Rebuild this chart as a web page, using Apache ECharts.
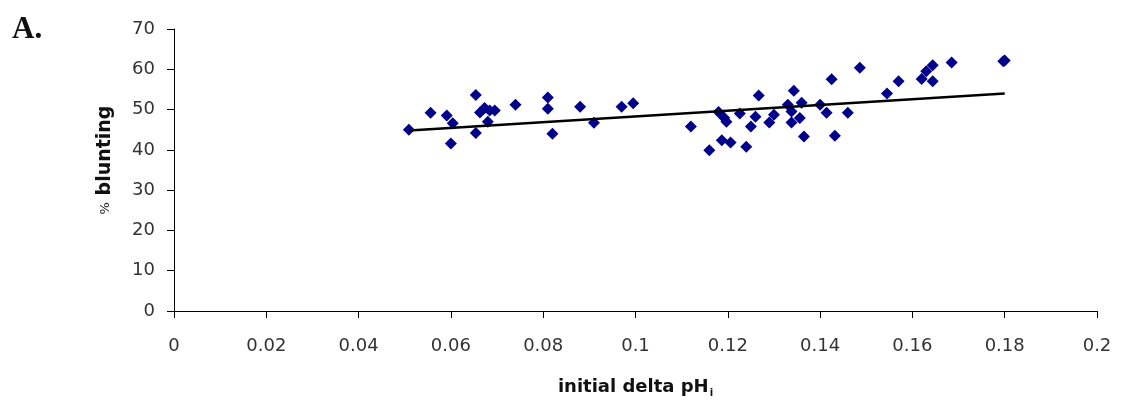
<!DOCTYPE html>
<html>
<head>
<meta charset="utf-8">
<script src="https://cdn.jsdelivr.net/npm/echarts@6/dist/echarts.min.js"></script>
<style>
  html, body { margin: 0; padding: 0; background: #fff; }
  #chart { width: 1131px; height: 404px; }
</style>
</head>
<body>
<div id="chart"></div>
<script>
// initial delta pHi vs % blunting
const deltaPH = [
  0.0509, 0.0556, 0.0591, 0.0600, 0.0604, 0.0654, 0.0654, 0.0663, 0.0673, 0.0684,
  0.0695, 0.0680, 0.0740, 0.0810, 0.0810, 0.0820, 0.0880, 0.0910, 0.0970, 0.0995,
  0.1120, 0.1160, 0.1187, 0.1206, 0.1180, 0.1197, 0.1192, 0.1226, 0.1240, 0.1250,
  0.1260, 0.1267, 0.1290, 0.1300, 0.1330, 0.1338, 0.1338, 0.1343, 0.1356, 0.1360,
  0.1365, 0.1400, 0.1414, 0.1425, 0.1432, 0.1460, 0.1486, 0.1545, 0.1570, 0.1620,
  0.1630, 0.1644, 0.1644, 0.1685, 0.1800, 0.1797
];
const blunting = [
  45.0, 49.2, 48.5, 41.6, 46.6, 53.6, 44.2, 49.3, 50.4, 49.8,
  49.8, 47.0, 51.2, 53.0, 50.2, 44.0, 50.7, 46.7, 50.7, 51.6,
  45.8, 39.9, 42.4, 41.8, 49.4, 47.0, 48.0, 49.0, 40.8, 45.8,
  48.2, 53.5, 46.8, 48.7, 51.2, 49.5, 46.8, 54.7, 47.9, 51.7,
  43.3, 51.2, 49.2, 57.5, 43.5, 49.2, 60.4, 54.0, 57.0, 57.6,
  59.5, 61.0, 57.0, 61.7, 62.2, 62.0
];
// fitted trend line end points
const trendX = [0.051, 0.180];
const trendY = [44.8, 54.0];

const xTicks = ['0', '0.02', '0.04', '0.06', '0.08', '0.1', '0.12', '0.14', '0.16', '0.18', '0.2'];

const points = deltaPH.map((x, i) => [x, blunting[i]]);
const trend = trendX.map((x, i) => [x, trendY[i]]);

const chart = echarts.init(document.getElementById('chart'));
const tickFont = { fontFamily: 'DejaVu Sans, sans-serif', fontSize: 18, color: '#333' };
const nameFont = { fontFamily: 'DejaVu Sans, sans-serif', fontWeight: 'bold', color: '#111' };

chart.setOption({
  animation: false,
  backgroundColor: '#fff',
  graphic: [{
    type: 'text',
    left: 12,
    top: 14,
    style: { text: 'A.', font: 'bold 31px "Liberation Serif", "Times New Roman", serif', fill: '#111' }
  }],
  grid: { left: 174, right: 34, top: 29, bottom: 93 },
  xAxis: {
    type: 'value',
    min: 0, max: 0.2, interval: 0.02,
    name: '{b|initial delta pH}{s|i}',
    nameLocation: 'middle',
    nameGap: 65,
    nameTextStyle: {
      rich: {
        b: Object.assign({ fontSize: 18 }, nameFont),
        s: Object.assign({ fontSize: 10, verticalAlign: 'bottom', padding: [12, 0, 0, 1] }, nameFont)
      }
    },
    axisLine: { show: true, onZero: false, lineStyle: { color: '#000', width: 1 } },
    axisTick: { show: true, inside: false, length: 7, lineStyle: { color: '#000' } },
    axisLabel: Object.assign({ margin: 26, formatter: (v) => xTicks[Math.round(v / 0.02)] }, tickFont),
    splitLine: { show: false }
  },
  yAxis: {
    type: 'value',
    min: 0, max: 70, interval: 10,
    name: '{p|%}  {b|blunting}',
    nameLocation: 'middle',
    nameGap: 59,
    nameTextStyle: {
      padding: [0, 0, 0, 20],
      rich: {
        p: { fontFamily: 'DejaVu Sans, sans-serif', fontSize: 13, color: '#222' },
        b: Object.assign({ fontSize: 19 }, nameFont)
      }
    },
    axisLine: { show: true, lineStyle: { color: '#000', width: 1 } },
    axisTick: { show: true, inside: false, length: 7, lineStyle: { color: '#000' } },
    axisLabel: Object.assign({ margin: 19 }, tickFont),
    splitLine: { show: false }
  },
  series: [
    {
      type: 'line',
      data: trend,
      symbol: 'none',
      lineStyle: { color: '#000', width: 2.5 },
      z: 3
    },
    {
      type: 'scatter',
      data: points,
      symbol: 'diamond',
      symbolSize: 12,
      itemStyle: { color: '#00008B', opacity: 1 },
      z: 2
    }
  ]
});
</script>
</body>
</html>
